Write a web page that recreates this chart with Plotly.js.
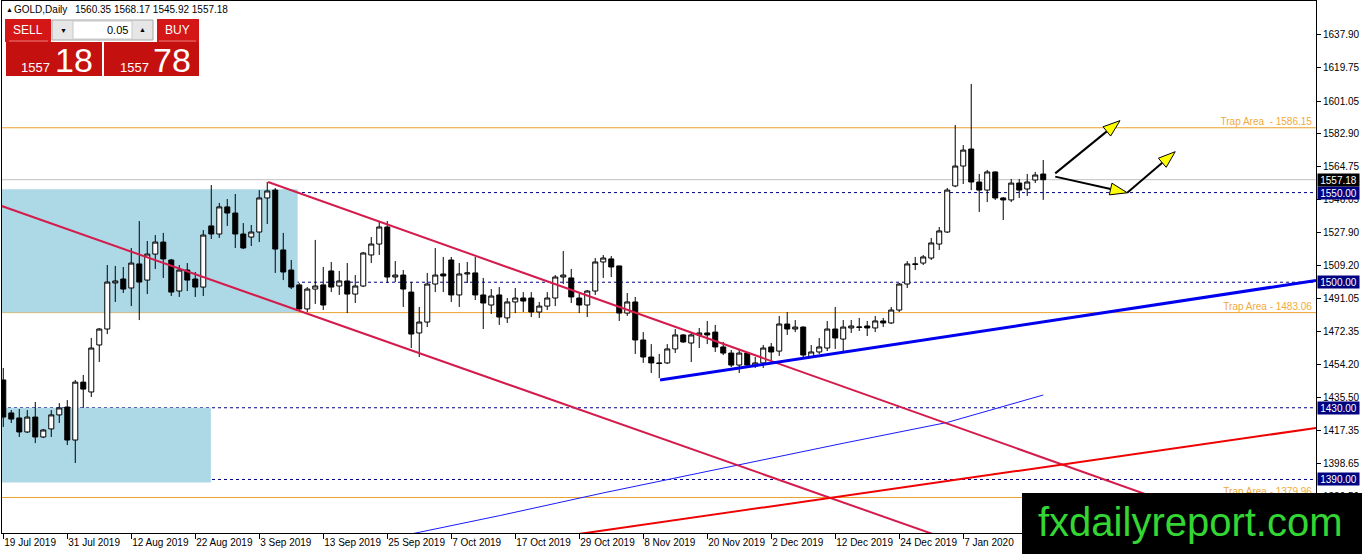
<!DOCTYPE html>
<html><head><meta charset="utf-8">
<script src="https://cdn.plot.ly/plotly-3.0.1.min.js"></script>
<style>html,body{margin:0;padding:0;background:#fff;}#chart{width:1362px;height:554px;}</style>
</head><body><div id="chart"></div>
<script>
// ---------------- DATA ----------------
const tickLabels = ['19 Jul 2019','31 Jul 2019','12 Aug 2019','22 Aug 2019','3 Sep 2019','13 Sep 2019','25 Sep 2019','7 Oct 2019','17 Oct 2019','29 Oct 2019','8 Nov 2019','20 Nov 2019','2 Dec 2019','12 Dec 2019','24 Dec 2019','7 Jan 2020'];
const tickBars = [0,8,16,24,32,40,48,56,64,72,80,88,96,104,112,120];

const opens = [1445.5,1427.1,1424.3,1416.5,1424.8,1413.7,1418.2,1426.0,1430.4,1412.0,
1444.3,1438.8,1465.0,1473.9,1499.6,1501.8,1496.8,1510.2,1501.2,1515.7,
1522.4,1512.4,1495.1,1506.8,1501.8,1497.3,1531.4,1526.9,1542.0,1538.6,
1526.9,1525.2,1528.0,1547.0,1551.4,1518.0,1506.8,1498.5,1485.1,1496.2,
1498.5,1506.3,1497.9,1500.7,1493.4,1497.9,1515.2,1521.3,1530.8,1502.9,
1504.0,1494.5,1471.7,1477.8,1499.0,1504.6,1512.4,1492.9,1504.6,1505.2,
1492.9,1487.3,1492.9,1480.1,1489.0,1491.2,1491.2,1483.4,1486.7,1491.2,
1502.9,1502.4,1491.2,1487.3,1495.1,1511.3,1513.0,1509.1,1482.8,1489.0,
1467.8,1458.3,1455.0,1455.0,1462.8,1470.6,1466.1,1470.6,1471.7,1472.2,
1463.9,1460.5,1453.8,1460.5,1453.3,1455.0,1463.9,1461.6,1476.7,1473.9,
1475.0,1458.3,1461.1,1463.3,1473.9,1468.3,1474.5,1474.8,1475.6,1474.5,
1478.4,1477.3,1484.5,1499.0,1509.9,1510.7,1513.5,1521.3,1528.0,1553.7,
1564.8,1574.3,1555.9,1551.4,1561.5,1547.0,1545.9,1555.3,1552.0,1557.0,
1560.35];
const highs = [1452.2,1428.7,1429.3,1428.7,1433.2,1418.2,1428.7,1432.6,1434.3,1445.5,
1448.3,1468.9,1474.5,1509.6,1509.1,1508.5,1519.1,1534.1,1523.0,1526.3,
1527.5,1513.0,1509.6,1510.7,1505.7,1529.1,1554.2,1544.2,1546.4,1549.2,
1533.0,1531.9,1551.4,1555.9,1552.6,1527.5,1512.4,1499.6,1497.3,1523.6,
1508.5,1511.3,1506.3,1510.7,1504.0,1516.9,1525.2,1533.6,1534.1,1511.8,
1506.8,1500.1,1486.2,1505.2,1519.1,1514.1,1514.1,1510.7,1511.3,1514.1,
1502.4,1496.2,1497.3,1491.2,1496.8,1494.5,1494.5,1489.0,1494.5,1504.0,
1517.4,1507.4,1494.5,1495.7,1513.5,1515.2,1514.6,1509.1,1494.0,1491.8,
1472.2,1465.5,1460.0,1465.5,1473.9,1471.1,1471.7,1474.5,1478.4,1476.2,
1466.7,1462.2,1462.2,1461.1,1458.3,1465.0,1466.1,1481.2,1483.4,1478.9,
1475.4,1465.0,1468.9,1478.4,1486.2,1478.9,1478.9,1480.1,1478.4,1481.2,
1480.1,1486.2,1499.6,1511.8,1514.1,1515.2,1524.7,1530.8,1552.6,1587.7,
1576.5,1610.6,1560.4,1562.6,1561.8,1547.5,1557.6,1557.6,1560.4,1561.5,
1568.17];
const lows = [1419.3,1421.5,1413.7,1415.9,1410.3,1413.1,1413.7,1421.5,1409.2,1399.2,
1429.9,1436.0,1455.5,1471.1,1489.0,1494.0,1486.7,1478.9,1493.4,1507.4,
1502.4,1492.3,1491.8,1495.1,1491.8,1492.3,1524.1,1524.7,1531.4,1519.1,
1518.5,1520.2,1522.4,1532.5,1505.2,1501.2,1496.2,1484.5,1483.4,1487.9,
1484.5,1494.5,1492.9,1482.8,1488.4,1497.3,1510.7,1515.2,1499.6,1500.1,
1486.2,1463.3,1458.3,1475.0,1494.5,1494.5,1489.0,1486.2,1499.6,1490.1,
1473.9,1482.3,1476.2,1477.3,1482.8,1483.4,1480.6,1480.1,1484.5,1486.7,
1499.0,1488.4,1482.8,1480.6,1492.9,1502.4,1502.9,1478.4,1481.2,1460.0,
1455.0,1449.4,1446.6,1454.4,1460.5,1466.1,1455.5,1463.3,1465.5,1461.1,
1459.4,1452.7,1449.4,1452.7,1452.2,1452.2,1456.6,1458.9,1470.6,1472.2,
1458.3,1457.7,1460.0,1461.6,1462.8,1461.6,1471.7,1472.8,1470.0,1472.2,
1475.0,1476.7,1483.4,1496.8,1506.8,1509.6,1512.4,1518.0,1527.5,1553.0,
1554.8,1551.4,1539.2,1544.7,1545.9,1534.7,1544.7,1547.0,1548.1,1555.3,
1545.92];
const closes = [1424.8,1423.7,1416.5,1424.8,1413.7,1417.6,1426.0,1429.9,1412.0,1444.3,
1440.4,1463.3,1473.9,1500.1,1500.7,1496.2,1510.7,1500.1,1515.7,1522.4,
1513.0,1494.5,1506.8,1501.2,1497.3,1526.3,1526.9,1542.0,1538.6,1526.9,
1519.1,1528.0,1547.0,1550.9,1518.5,1505.7,1497.3,1485.1,1496.2,1497.9,
1487.3,1497.3,1500.7,1493.4,1497.9,1516.3,1521.3,1530.8,1502.9,1504.0,
1496.2,1471.1,1477.8,1499.0,1504.0,1503.5,1492.9,1504.6,1505.2,1492.9,
1488.4,1492.3,1480.6,1489.0,1491.2,1489.5,1483.4,1486.7,1491.2,1502.9,
1504.0,1491.8,1487.3,1495.1,1511.3,1513.5,1508.5,1482.8,1489.0,1467.8,
1458.3,1455.0,1454.7,1462.8,1470.6,1466.7,1470.6,1471.7,1470.6,1463.9,
1460.5,1453.8,1460.5,1453.8,1455.0,1463.3,1461.1,1476.7,1473.9,1475.0,
1459.4,1461.1,1463.9,1473.9,1468.9,1475.0,1475.6,1475.0,1474.5,1478.4,
1477.3,1484.5,1499.0,1510.2,1510.2,1514.1,1521.9,1528.6,1551.4,1564.8,
1573.7,1555.9,1551.4,1561.5,1547.0,1545.9,1555.3,1551.4,1555.9,1559.8,
1557.18];

const yTicks = [1637.90,1619.75,1601.05,1582.90,1564.75,1546.05,1527.90,1509.20,1491.05,1472.35,1454.20,1435.50,1417.35,1398.65,1380.50];
const trapLevels = [1586.15,1483.06,1379.96];
const trapTexts = ['Trap Area  - 1586.15','Trap Area - 1483.06','Trap Area - 1379.96'];
const dashLevels = [1550.00,1500.00,1430.00,1390.00];
const bidPrice = 1557.18;
const headerText = '1560.35 1568.17 1545.92 1557.18';

// rectangles (right bar edge, bottom price, top price)
const rectRight = [36.8, 25.95];
const rectBottom = [1483.06, 1388.3];
const rectTop = [1551.8, 1430.0];

// trend lines (bar index, price)
const channelUpX = [33.1, 164.1], channelUpY = [1555.9, 1348.0];
const channelLoX = [-0.2, 164.1], channelLoY = [1542.5, 1284.3];
const supportX = [82.1, 164.1], supportY = [1445.5, 1501.0];
const redLineX = [69.6, 164.1], redLineY = [1358.1, 1418.7];
const maBars = [50, 62, 75, 91, 105, 118, 130];
const maValues = [1358.7, 1369.8, 1382.5, 1397.5, 1410.2, 1421.8, 1437.1];

// arrows: [x0,y0,x1,y1]
const arrowA = [131.5, 1560.7, 139.6, 1590.1];
const arrowB = [131.5, 1558.9, 140.5, 1549.9];
const arrowC = [140.5, 1549.9, 146.5, 1572.8];

// ---------------- LAYOUT HELPERS ----------------
const W = 1362, H = 554;
const M = {l:2, r:46, t:1, b:21};
const plotW = W - M.l - M.r, plotH = H - M.t - M.b;
const xRange = [-0.16, 164.1];
const yRange = [1360.15, 1656.84];
const F = "Tahoma, 'Liberation Sans', Arial, sans-serif";
const pxX = px => (px - M.l) / plotW;
const pxY = py => (H - M.b - py) / plotH;

const bars = opens.map((_, i) => i);

const traces = [];
traces.push({
  type:'candlestick', x:bars, open:opens, high:highs, low:lows, close:closes,
  increasing:{line:{color:'#000', width:1}, fillcolor:'#ffffff'},
  decreasing:{line:{color:'#000', width:1}, fillcolor:'#000000'},
  whiskerwidth:0, hoverinfo:'skip', showlegend:false
});
const lineTrace = (x, y, color, width) => ({type:'scatter', mode:'lines', x:x, y:y, line:{color:color, width:width}, hoverinfo:'skip', showlegend:false});
traces.push(lineTrace(maBars, maValues, '#1a1aff', 1));
traces.push(lineTrace(channelUpX, channelUpY, '#d41c4c', 2));
traces.push(lineTrace(channelLoX, channelLoY, '#d41c4c', 2));
traces.push(lineTrace(redLineX, redLineY, '#f00000', 2));
traces.push(lineTrace(supportX, supportY, '#0000ee', 3));

// trap labels as plot text (so watermark covers the last one)
traces.push({type:'scatter', mode:'text', x:trapLevels.map(()=> (1312 - 3.3)/8), y:trapLevels,
  text:trapTexts, textposition:'top left', textfont:{family:F, size:10, color:'#f0aa3c'},
  hoverinfo:'skip', showlegend:false});

// arrows
const sx = plotW / (xRange[1] - xRange[0]);
const sy = plotH / (yRange[1] - yRange[0]);
function addArrow(a) {
  const [x0, y0, x1, y1] = a;
  const ax = x0*sx, ay = -y0*sy, bx = x1*sx, by = -y1*sy;
  const dx = bx-ax, dy = by-ay, len = Math.hypot(dx, dy), ux = dx/len, uy = dy/len;
  const L = 17, Wd = 6;
  const cx = bx-ux*L, cy = by-uy*L;
  const p1 = [cx-uy*Wd, cy+ux*Wd], p2 = [cx+uy*Wd, cy-ux*Wd];
  traces.push(lineTrace([x0, cx/sx], [y0, -cy/sy], '#000', 2));
  traces.push({type:'scatter', mode:'lines', x:[x1, p1[0]/sx, p2[0]/sx, x1], y:[y1, -p1[1]/sy, -p2[1]/sy, y1],
    fill:'toself', fillcolor:'#ffff00', line:{color:'#000', width:1}, hoverinfo:'skip', showlegend:false});
}
addArrow(arrowA); addArrow(arrowB); addArrow(arrowC);

// ---------------- SHAPES ----------------
const shapes = [];
rectRight.forEach((r, i) => shapes.push({type:'rect', xref:'x', yref:'y', x0:-1, x1:r, y0:rectBottom[i], y1:rectTop[i],
  fillcolor:'#add8e6', line:{width:0}, layer:'below'}));
trapLevels.forEach(v => shapes.push({type:'line', xref:'paper', yref:'y', x0:0, x1:1, y0:v, y1:v, line:{color:'#eba12a', width:1}, layer:'below'}));
dashLevels.forEach(v => shapes.push({type:'line', xref:'paper', yref:'y', x0:0, x1:1, y0:v, y1:v, line:{color:'#000080', width:1, dash:'3px,3px'}, layer:'below'}));
shapes.push({type:'line', xref:'paper', yref:'y', x0:0, x1:1, y0:bidPrice, y1:bidPrice, line:{color:'#c0c0c0', width:1}, layer:'below'});

const pRect = (x0, y0, x1, y1, fill, lc, lw) => ({type:'rect', xref:'paper', yref:'paper',
  x0:pxX(x0), x1:pxX(x1), y0:pxY(y1), y1:pxY(y0), fillcolor:fill, line:{color:lc || fill, width:lw || 0}, layer:'above'});
// trading panel
shapes.push(pRect(5, 19, 51, 42, '#d41616'));
shapes.push(pRect(6, 42, 102, 76, '#c51010'));
shapes.push(pRect(104, 42, 199, 76, '#c51010'));
shapes.push(pRect(157, 19, 199, 42, '#d41616'));
shapes.push({type:'line', xref:'paper', yref:'paper', x0:pxX(9), x1:pxX(48), y0:pxY(41), y1:pxY(41), line:{color:'#e87878', width:1}, layer:'above'});
shapes.push({type:'line', xref:'paper', yref:'paper', x0:pxX(159), x1:pxX(196), y0:pxY(41), y1:pxY(41), line:{color:'#e87878', width:1}, layer:'above'});
shapes.push(pRect(52, 20, 153, 40, '#e6e6e6', '#a8a8a8', 1));
shapes.push(pRect(73, 21, 132, 39, '#ffffff', '#c8c8c8', 1));
// watermark box
shapes.push(pRect(1022, 493, 1362, 554, '#000000'));

// ---------------- ANNOTATIONS ----------------
const ann = [];
const pText = (px, py, text, size, color, xanchor, extra) => Object.assign({xref:'paper', yref:'paper', x:pxX(px), y:pxY(py),
  xanchor:xanchor || 'left', yanchor:'middle', text:text, showarrow:false, borderpad:0,
  font:{family:F, size:size, color:color}}, extra || {});
ann.push(pText(5, 9, '▲', 7, '#000'));
ann.push(pText(13, 9, 'GOLD,Daily', 10, '#000'));
ann.push(pText(74, 9, headerText, 10, '#000'));
ann.push(pText(28, 30, 'SELL', 12, '#fff', 'center'));
ann.push(pText(177, 30, 'BUY', 12, '#fff', 'center'));
ann.push(pText(63, 30, '▼', 7, '#000', 'center'));
ann.push(pText(142, 29, '▲', 7, '#000', 'center'));
ann.push(pText(129, 30, '0.05', 11, '#000', 'right'));
ann.push(pText(20, 68, '1557', 13, '#fff'));
ann.push(pText(54, 60, '18', 34, '#fff'));
ann.push(pText(119, 68, '1557', 13, '#fff'));
ann.push(pText(152, 60, '78', 34, '#fff'));
ann.push(pText(1037, 522, 'fxdailyreport.com', 40, '#33d633', 'left', {font:{family:"'Liberation Sans', Arial, sans-serif", size:40, color:'#33d633'}}));

const priceTag = (v, bg) => ({xref:'paper', yref:'y', x:pxX(1317), y:v, xanchor:'left', yanchor:'middle',
  text:v.toFixed(2), showarrow:false, bgcolor:bg, borderpad:0, width:41, height:12, align:'center',
  font:{family:F, size:10, color:'#fff'}});
dashLevels.forEach(v => ann.push(priceTag(v, '#000080')));
ann.push(priceTag(bidPrice, '#000000'));

const layout = {
  width:W, height:H, margin:M, paper_bgcolor:'#fff', plot_bgcolor:'#fff',
  showlegend:false, boxgap:0.375, boxgroupgap:0,
  xaxis:{range:xRange, tickmode:'array', tickvals:tickBars, ticktext:tickLabels, ticks:'outside', ticklen:5,
    tickcolor:'#000', ticklabelposition:'outside right', tickangle:0, showline:true, mirror:true, linecolor:'#000', linewidth:1,
    showgrid:false, zeroline:false, rangeslider:{visible:false}, tickfont:{family:F, size:10, color:'#000'}, fixedrange:true},
  yaxis:{range:yRange, side:'right', tickmode:'array', tickvals:yTicks, ticktext:yTicks.map(v=>v.toFixed(2)),
    ticks:'outside', ticklen:4, tickcolor:'#000', showline:true, mirror:true, linecolor:'#000', linewidth:1,
    showgrid:false, zeroline:false, tickfont:{family:F, size:10, color:'#000'}, fixedrange:true},
  shapes:shapes, annotations:ann
};
Plotly.newPlot('chart', traces, layout, {staticPlot:true, displayModeBar:false});
</script></body></html>
